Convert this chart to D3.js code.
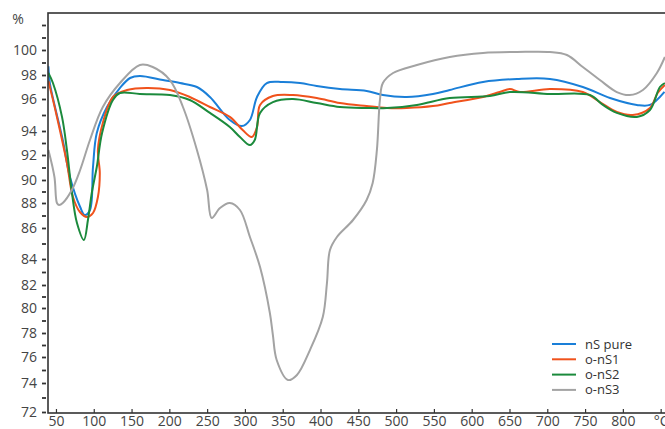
<!DOCTYPE html>
<html>
<head>
<meta charset="utf-8">
<script src="https://cdn.jsdelivr.net/npm/d3@7"></script>
<style>
  body { margin: 0; background: #fff; }
  svg { display: block; }
  .axis text { font-family: 'Open Sans', sans-serif; font-size: 14px; fill: #444; }
  .axis line { stroke: #333; }
  .legend text { font-family: 'Open Sans', sans-serif; font-size: 13px; fill: #333; }
</style>
</head>
<body>
<div class="chart"></div>
<script>
// Data (temperature in °C, mass in %).
const seriesNames = ['nS pure', 'o-nS1', 'o-nS2', 'o-nS3'];
const seriesColors = ['#1a7fd8', '#f0521c', '#1b8a3c', '#a3a3a3'];

const nsPureT = [40, 42, 59, 68.5, 82, 88, 95, 99, 104, 117.5, 134.7, 148, 161, 191.5, 214, 236.5, 253.7, 280, 296, 306.6, 316, 329, 350, 372.8, 395, 425.7, 461, 482.5, 514, 548.7, 571, 615, 660, 703.5, 747, 783, 818.5, 835.8, 855];
const nsPureV = [98.7, 97.3, 93.25, 90.24, 87.68, 87.04, 87.44, 91.04, 93.83, 95.5, 96.92, 97.75, 97.92, 97.58, 97.33, 97.0, 96.17, 94.69, 94.31, 94.69, 96.17, 97.33, 97.42, 97.33, 97.08, 96.83, 96.67, 96.33, 96.17, 96.42, 96.75, 97.42, 97.67, 97.67, 97.0, 96.08, 95.63, 95.63, 96.6];

const ons1T = [40, 51.3, 64.5, 72.5, 81.7, 91, 99, 105.5, 108, 105.5, 112, 125.4, 144, 170, 200.8, 227, 253.7, 280, 297, 309, 316, 320, 337, 363.5, 395, 425.7, 461, 488, 514, 548.7, 571, 615, 637, 650.5, 663.8, 703.5, 747, 769.6, 792, 813, 835.8, 846, 855.6];
const ons1V = [97.5, 94.88, 91.36, 88.52, 87.28, 86.88, 87.2, 88.52, 90.56, 92.42, 94.5, 96.17, 96.75, 96.92, 96.75, 96.17, 95.5, 94.88, 94.06, 93.5, 94.25, 95.63, 96.25, 96.33, 96.08, 95.75, 95.56, 95.44, 95.44, 95.56, 95.75, 96.17, 96.58, 96.83, 96.58, 96.83, 96.58, 95.81, 95.19, 95.0, 95.44, 96.5, 97.17];

const ons2T = [40, 46, 58, 64.5, 71, 77.8, 87, 92.3, 97.6, 104, 111, 125.4, 134.7, 161, 200.8, 227, 253.7, 280, 293.4, 306.6, 313, 320, 337, 363.5, 395, 425.7, 461, 488, 527.5, 571, 624, 650.5, 703.5, 756.4, 773.6, 792, 818.5, 835.8, 849, 855.6];
const ons2V = [98.17, 97.33, 94.88, 92.42, 88.96, 86.4, 85.23, 86.64, 88.96, 91.04, 93.83, 95.94, 96.5, 96.42, 96.33, 95.94, 95.13, 94.25, 93.5, 92.83, 93.25, 95.13, 95.81, 96.0, 95.75, 95.5, 95.44, 95.44, 95.63, 96.08, 96.25, 96.58, 96.42, 96.33, 95.63, 95.13, 94.88, 95.31, 97.0, 97.33];

const ons3T = [40, 48, 51.3, 54, 59, 71, 82, 95, 112, 134.7, 161, 178, 200.8, 218, 236.5, 250, 256, 267, 280, 293.4, 306.6, 320, 333, 337, 342, 357, 368.8, 386, 403, 408.5, 412.5, 421.7, 443, 461, 469, 474.6, 478.6, 482.5, 496, 527.5, 571, 615, 660, 703.5, 726, 747, 769.6, 792, 809, 826.5, 845, 855.6];
const ons3V = [92.42, 90.24, 88.0, 87.84, 88.0, 89.13, 90.8, 93.25, 95.5, 97.33, 98.8, 98.64, 97.58, 95.5, 92.42, 89.13, 86.8, 87.6, 88.0, 87.44, 85.42, 83.38, 79.6, 77.83, 75.77, 74.23, 74.62, 76.58, 79.28, 82.15, 84.58, 85.42, 86.64, 88.26, 89.74, 92.42, 95.94, 97.33, 98.16, 98.8, 99.44, 99.76, 99.84, 99.84, 99.6, 98.64, 97.58, 96.58, 96.33, 96.75, 98.16, 99.44];

const xTickValues = [50, 100, 150, 200, 250, 300, 350, 400, 450, 500, 550, 600, 650, 700, 750, 800];
const yLabelValues = [72, 74, 76, 78, 80, 82, 84, 86, 88, 90, 92, 94, 96, 98, 100];

const series = [
  {name: seriesNames[0], color: seriesColors[0], values: nsPureT.map((t, i) => ({t, v: nsPureV[i]}))},
  {name: seriesNames[1], color: seriesColors[1], values: ons1T.map((t, i) => ({t, v: ons1V[i]}))},
  {name: seriesNames[2], color: seriesColors[2], values: ons2T.map((t, i) => ({t, v: ons2V[i]}))},
  {name: seriesNames[3], color: seriesColors[3], values: ons3T.map((t, i) => ({t, v: ons3V[i]}))}
];

// Layout.
const W = 665, H = 429;
const frame = {left: 48, top: 13, bottom: 413, right: 672};

const svg = d3.select('.chart')
  .append('svg')
  .attr('width', W)
  .attr('height', H);

// Scales. The original y axis is hand-spaced, so the scale is piecewise.
const xScale = d3.scaleLinear()
  .domain([40, 865])
  .range([frame.left + 0.4, frame.right]);

const yScale = d3.scaleLinear()
  .domain([72, 74, 76, 78, 80, 82, 84, 86, 88, 90, 92, 94, 96, 98, 100, 102, 103])
  .range([412, 383, 357, 333, 308, 285, 259, 228, 203, 180, 155, 131, 99, 75, 50, 25, 13]);

// Clip.
svg.append('clipPath')
  .attr('id', 'plot-clip')
  .append('rect')
  .attr('x', frame.left)
  .attr('y', frame.top)
  .attr('width', frame.right - frame.left)
  .attr('height', frame.bottom - frame.top);

// Draw lines.
const line = d3.line()
  .x(d => xScale(d.t))
  .y(d => yScale(d.v))
  .curve(d3.curveCatmullRom.alpha(0.5));

svg.append('g')
  .attr('clip-path', 'url(#plot-clip)')
  .selectAll('.series')
  .data(series)
  .enter()
  .append('path')
  .attr('class', 'series')
  .attr('d', d => line(d.values))
  .attr('fill', 'none')
  .attr('stroke', d => d.color)
  .attr('stroke-width', 2);

// Frame.
svg.append('rect')
  .attr('x', frame.left)
  .attr('y', frame.top)
  .attr('width', frame.right - frame.left)
  .attr('height', frame.bottom - frame.top)
  .attr('fill', 'none')
  .attr('stroke', '#333')
  .attr('stroke-width', 1.6);

// Y axis: minor dashes every unit, labels every two.
const yTicks = d3.range(72, 103, 1);
const yTickAxis = d3.axisLeft(yScale)
  .tickValues(yTicks)
  .tickSize(4)
  .tickFormat('');

svg.append('g')
  .attr('class', 'y axis')
  .attr('transform', `translate(${frame.left - 2},0)`)
  .call(yTickAxis)
  .call(g => g.select('.domain').remove())
  .selectAll('line')
  .attr('stroke-width', 1.8);

const yLabelAxis = d3.axisLeft(yScale)
  .tickValues(yLabelValues)
  .tickSize(0)
  .tickPadding(11);

svg.append('g')
  .attr('class', 'y axis')
  .attr('transform', `translate(${frame.left},0)`)
  .call(yLabelAxis)
  .call(g => g.select('.domain').remove());

svg.append('text')
  .attr('x', 18)
  .attr('y', 24)
  .attr('text-anchor', 'middle')
  .style('font-family', "'Open Sans', sans-serif")
  .style('font-size', '14px')
  .style('fill', '#444')
  .text('%');

// X axis.
const xAxis = d3.axisBottom(xScale)
  .tickValues(xTickValues.concat([850]))
  .tickSizeInner(-4)
  .tickSizeOuter(0)
  .tickPadding(3)
  .tickFormat(d => d === 850 ? '°C' : d);

svg.append('g')
  .attr('class', 'x axis')
  .attr('transform', `translate(0,${frame.bottom})`)
  .call(xAxis)
  .call(g => g.select('.domain').remove())
  .selectAll('line')
  .attr('stroke-width', 1.2);

// Legend.
const legend = svg.append('g')
  .attr('class', 'legend')
  .attr('transform', 'translate(552,344)');

const items = legend.selectAll('.item')
  .data(series)
  .enter()
  .append('g')
  .attr('class', 'item')
  .attr('transform', (d, i) => `translate(0,${i * 15.3})`);

items.append('line')
  .attr('x1', 0)
  .attr('x2', 24)
  .attr('stroke', d => d.color)
  .attr('stroke-width', 2);

items.append('text')
  .attr('x', 33)
  .attr('dy', '0.35em')
  .text(d => d.name);
</script>
</body>
</html>
